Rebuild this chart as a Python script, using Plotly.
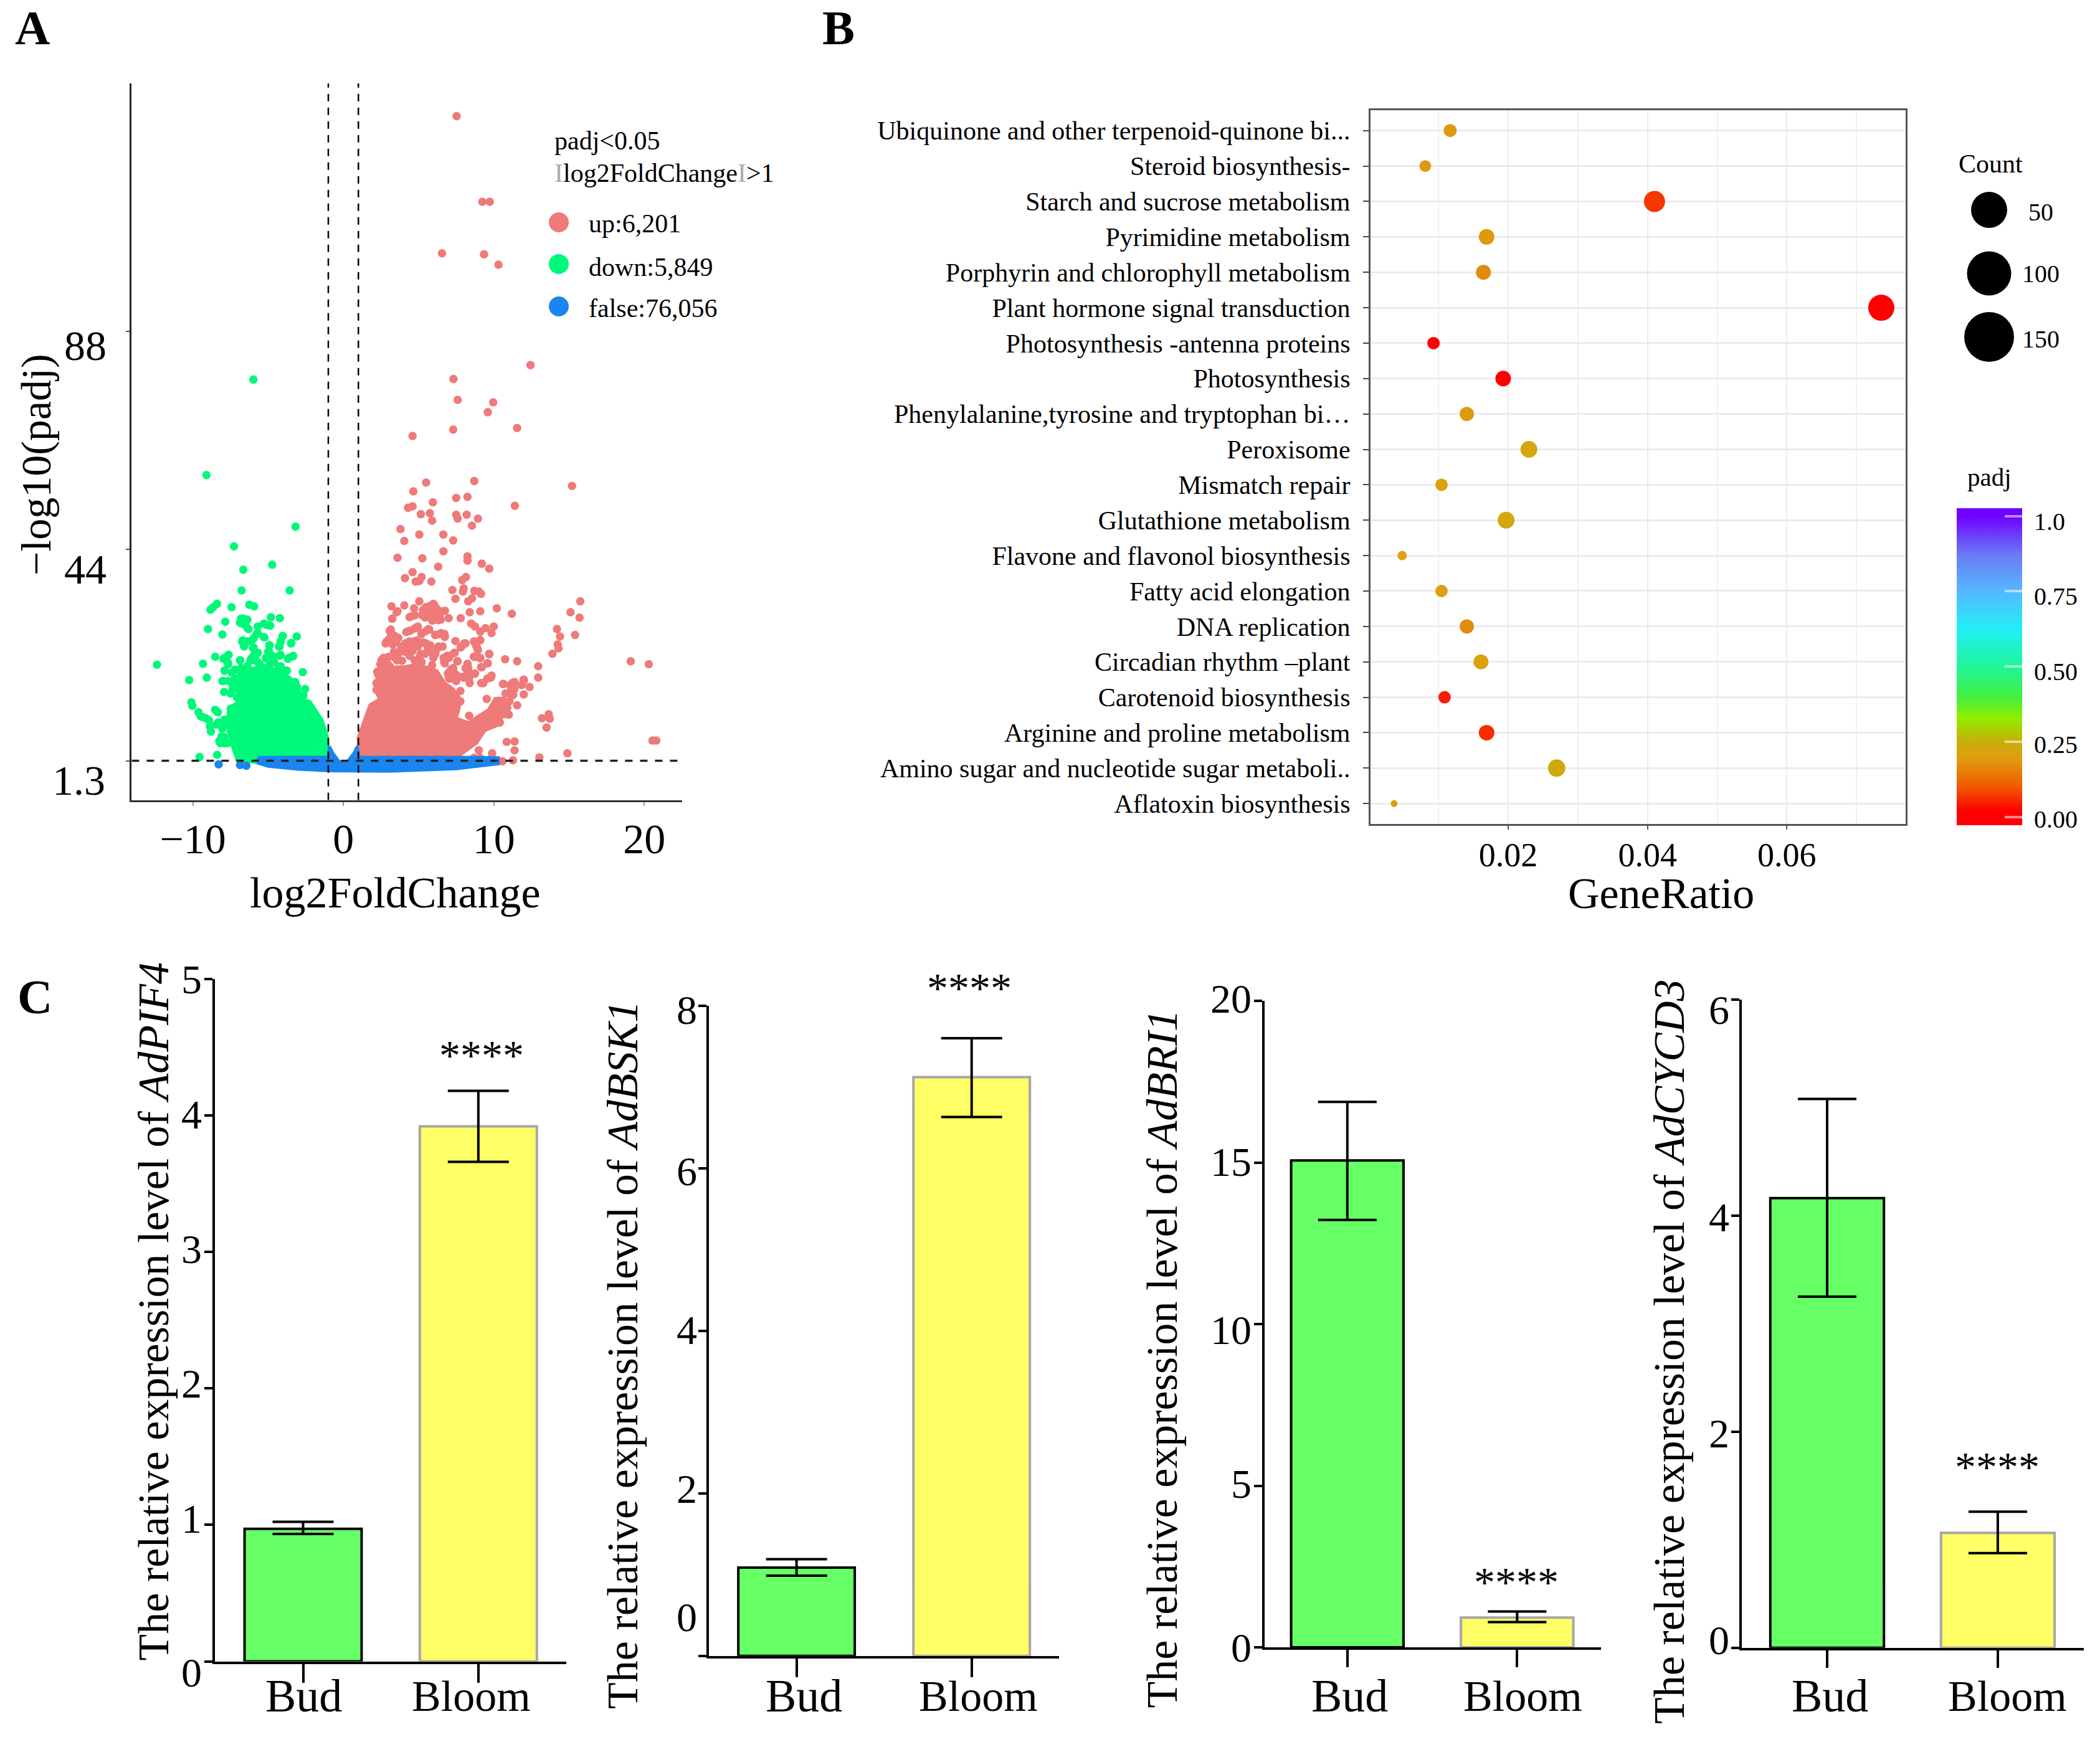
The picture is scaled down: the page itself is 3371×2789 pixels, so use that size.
import plotly.graph_objects as go

W, H = 3371, 2789
FONT = "Liberation Serif"

# ---------- Panel A: volcano plot ----------
up_outline = [(1.0,1.3),(1.0,6.1),(1.5,10.3),(1.77,12.6),(2.4,13.7),(2.12,15.8),(2.12,17),(2.4,19.1),(2.53,21.1),(2.95,21.7),
              (3.3,20.2),(4.1,20.3),(4.8,20.7),(5.5,20.2),(6.2,19.5),(6.75,17),(7.3,15.8),(7.7,14.1),(7.7,12),(7.5,9.9),
              (8.3,9),(9,10.3),(9.65,11.6),(10.1,13.9),(10.7,13.9),(10.85,12.8),(10.35,8.6),(9.4,7.4),(8.85,4.9),(7.7,2.3),(7.5,1.3)]
up_points = [(7.53,131.5),(9.24,114.2),(9.73,114.2),(6.56,103.8),(9.35,103.6),(10.31,101.5),(12.44,81.2),(7.32,78.4),
 (7.6,74.2),(9.96,73.7),(9.6,71.7),(7.3,68.2),(11.55,68.5),(4.6,66.9),(5.5,57.5),(8.7,57.8),(15.2,56.8),(4.65,55.7),(7.5,54.4),
 (8.25,54.6),(5.95,53.5),(11.4,52.8),(4.6,52.7),(4.3,52.4),(5.15,51.1),(5.75,51.3),(7.5,51.0),(7.6,50.2),(8.2,51),(5.9,49.8),
 (8.95,50.2),(8.55,48.8),(3.8,48.1),(5.05,47),(6.65,47),(7.3,45.8),(4.05,45.7),(6.65,43.6),(8.25,42.6),(8.25,41.7),(3.6,42.3),
 (5.25,42.2),(9.2,41.1),(9.7,40.1),(6.3,40.5),(4.6,39.4),(4.1,38.2),(5.2,38.4),(5.05,37.6),(4.8,37.5),(5.85,37.5),(8.15,38.4),
 (7.9,37.8),(7.25,35.8),(8,36.1),(7.95,35.5),(8.7,35.6),(9,35.5),(9.15,35),(7.45,34),(8.55,34.1),(8.3,33.5),(5.05,33.5),(15.75,33.5),
 (4.05,32.7),(3.2,32.5),(6.05,32.8),(5.75,32.6),(4.7,32.1),(5.4,32),(10.2,32.1),(3.6,31.5),(6.75,31.6),(6.15,31.7),(8.4,31.3),(9.1,31.5),
 (15.1,31.3),(11.2,31),(15.7,30.2),(3.25,30),(4.4,30.3),(4.75,30.7),(5.45,30.3),(5.95,29.8),(6.3,29.7),(6.4,30.7),(7,30.1),(7.8,30.1),
 (8.5,29),(8.75,28.4),(9.1,27.4),(9.45,28.1),(10,28.4),(9.85,27.1),(3.15,27.8),(14.2,27.9),(14.4,26.4),(15.4,26.7),(4.85,28.2),(4.35,27.5),
 (5.65,27.9),(5.2,27.1),(6.1,26.7),(6.5,27.1),(6.75,26.5),(7.45,25.5),(9.1,25.7),(8.75,25.2),(8.05,25),(7.8,24.2),(8.9,24),(14.25,24.8),
 (14.3,24),(13.9,22.9),(9.7,22.8),(10.75,21.8),(11.55,21.4),(12.95,20.4),(12.95,18.1),(19.1,21.4),(20.3,20.8),(8.7,22.3),(9.1,22.1),
 (9.6,21),(9.2,20.2),(8.25,20.9),(8.3,20),(8.75,18.9),(8.4,18.3),(8,18.1),(9.8,18.1),(9.3,17),(10.65,16.8),(11.3,17),(12,17.5),
 (7.4,23.1),(6.9,22.5),(6.7,21.2),(7.6,21.4),(7.3,20),(7.05,19.1),(7.5,17.7),(7.05,17.9),
 (3.29,26.5),(3.64,26.1),(2.88,25.4),(3.29,24.8),(3.7,23.3),(4.05,24.4),(4.26,23.7),(4.67,25.4),(4.81,24.4),(4.4,22.5),(5.15,22.9),
 (5.57,24.6),(5.78,23.3),(6.05,22.7),(6.26,24),(6.6,24.4),(6.74,21.6),(7.02,22.1),(7.36,23.1),(7.57,21.4),(2.81,21.9),(3.08,20.4),
 (2.25,19.3),(3.57,21.6),(7.02,19.1),(7.3,19.8),(7.5,18.7),(7.09,17.9),(7.5,17.4),(7.98,18.3),(8.26,20.8),(8.33,19.3),(8.75,18.9),
 (8.4,17),(8.33,17.9),(8.68,22.3),(9.09,22),(9.16,20.2),(9.57,21),(9.69,22.9),(9.3,17),(9.78,18.1),(10.61,16.8),(11.23,17),(11.37,15.8),
 (11.23,14.5),(10.78,14.9),(11.99,17.7),(11.85,16.6),(12.38,16.2),(11.99,14.7),(11.55,12.5),(11,10.6),(9.53,13.8),(7.78,15.4),(7.78,13.3),
 (8.36,10.4),(13.2,9.9),(13.65,10.7),(13.72,9.8),(13.51,8),(10.86,5.1),(11.38,5.2),(11.38,3.4),(9,3.4),(9.89,2.8),(9.89,1.9),(8.68,1.9),
 (9.09,1.9),(13.03,2),(14.89,2.8),(10.58,1.2),(11.27,1.4),(20.8,5.4),(20.55,5.4),
 (3.54,31.3),(3.25,30),(4.74,30.7),(5.29,31.7),(5.43,30.25),(5.64,32.35),(5.98,33),(6.19,32.1),(5.85,30.9),(6.26,31.1),(6.47,31.5),(5.43,31.3),
 (5.91,29.6),(5.5,32.35),(5.22,30.7),(6.05,30.5),(6.47,29.8),(4.53,30.5),(4.19,27.3),(4.46,27.6),(4.74,28),(4.95,28.4),(5.2,26.9),(5.5,27.5),
 (5.71,27.8),(6.12,26.7),(6.4,26.9),(6.72,26.9),(6.74,26.3),(3.08,27.5),(3.22,26.9),(3.08,26.05),(3.43,26.5),(2.81,25),(3.08,25.2),(3.5,25.4),
 (3.64,26.05),(3.84,24.4),(4.12,25),(4.4,25.4),(4.88,25.6),(4.53,24.8),(4.95,24.4),(5.29,25.2),(5.5,25),(5.78,24.6),(5.64,23.7),(6.05,23.5),
 (5.98,22.1),(6.33,24.4),(6.12,22.9),(4.12,23.3),(4.6,23.5),(5.09,22.5),(5.43,22.9),(3.64,22.9),(3.43,22.1),(3.36,23.3),(3.01,22.3),(2.67,22.1),
 (2.74,21),(4.74,21.6),(6.74,21),(7.09,22.5),(6.67,22.1),(7.85,24.4),(8.12,25),(8.68,25.4),(8.82,24.6),(8.95,23.7),(9.09,25.6),(8.81,22.3),
 (7.16,19.8),(6.95,18.9),(7.3,18.7),(7,18.3),(8.26,18.7),(8.12,20),(9.57,17.9),(9.85,18.5),(9.16,17),(11.37,17.2),(11.09,16.6),(11.16,15.8),
 (11.3,14.7),(11.03,13.3),(10.89,12),(10.68,10.7),(10.4,9),(2.46,20.8),(2.53,21.6),(2.32,18.7),(2.2,17),(2.2,15.6),(3.9,21.5),(5.2,21.2),(5.9,20.6)]

down_outline = [(-1.0,1.9),(-1.06,6.1),(-1.41,9.5),(-1.96,12),(-2.24,13.3),(-2.93,13.7),(-2.93,16.5),(-3.62,18.2),(-4.17,19.6),(-5,20),
                (-5.55,20.2),(-6.38,19.8),(-6.94,18.5),(-7.14,16.6),(-6.94,13.2),(-7.63,12),(-7.7,8.2),(-7.35,4),(-7.07,1.5),(-5.69,0.9),(-5.69,1.9)]
down_points = [(-5.98,78.3),(-9.1,59),(-3.18,48.6),(-7.27,44.6),(-4.73,40.9),(-6.65,39.9),(-6.76,35.7),(-3.57,35.7),(-8.4,33),(-8.66,32.3),
 (-8.84,31.8),(-7.43,32.3),(-6.25,32.8),(-5.93,32.5),(-4.82,30.3),(-4.22,30.1),(-6.8,30),(-6.45,29.8),(-6.73,29),(-6.38,28.1),(-7.85,29.4),
 (-9,27.9),(-8.04,26.8),(-5.69,28.4),(-5,28.7),(-5.28,29),(-5.76,26.9),(-5.25,26.2),(-3.1,26.4),(-4.04,26.5),(-4.17,25.4),(-3.46,25.1),
 (-4.28,24.4),(-6.69,25.6),(-6.59,24.6),(-6.1,25.6),(-4.9,24.6),(-6,24),(-5.7,23.1),(-5,23.3),(-3.35,22.4),(-3.69,21.9),(-4.24,22.5),
 (-4.73,22.5),(-8.52,22.3),(-7.63,22.7),(-7.97,21.9),(-6.87,21.6),(-6.1,22),(-5.14,22),(-12.39,20.7),(-9.33,20.9),(-7.66,20.8),(-2.7,19.2),
 (-3.76,19.5),(-7.9,19.5),(-10.25,17.6),(-9.08,18.1),(-8.04,17.4),(-4.31,20),(-7.21,19.7),(-6.8,20),(-6.38,20.4),(-5.69,21.2),(-4.87,20.8),
 (-5.28,20),(-4.66,19.1),(-6.1,19.3),(-3.2,17.2),(-3.62,17.6),(-7.21,17.9),(-6.38,17.9),
 (-10.04,12.4),(-10.1,13.1),(-9.63,11.1),(-9.35,10.1),(-8.94,9.5),(-8.8,7.2),(-8.52,11.6),(-8.35,11.1),(-8.45,8.6),(-8.04,7.8),(-8.18,4.85),
 (-7.9,4.85),(-8.39,2.5),(-9.56,2.05),(-7.49,11.8),(-7.97,17.4),(-7.93,15.2),(-7.9,19.5),(-2.54,15.8),(-3.34,17),(-7.35,15.8),(-8.1,6.2),(-7.9,9.6),
 (-6.66,30),(-6.38,29.8),(-6.87,29.2),(-6.52,28.8),(-6.31,27.9),(-5.14,28.8),(-4.86,28.6),(-5.69,27.1),(-5.28,26.3),(-5.97,26),(-6.73,25.4),
 (-6.59,24.4),(-6.38,25.4),(-4.03,26.5),(-4.17,25.4),(-3.48,25),(-4.24,24.4),(-4.93,24.6),(-5.97,24.2),(-5.69,23.1),(-4.93,23.3),(-5.14,22.1),
 (-4.73,22.5),(-4.17,22.7),(-3.62,22.1),(-3.34,22.5),(-5.97,22.5),(-6.18,21.6),(-6.87,21.6),(-7.63,22.7),(-7.9,22.1),(-7.69,21.2),(-3.76,19.5),
 (-3.21,17),(-2.65,14.5),(-3.62,17.4),(-7.42,19.1),(-7.63,17.4),(-7.35,16.6),(-7.49,14.9),(-7.07,14.1),(-6.8,15.3),(-4.17,20.4),(-4.59,21.2),
 (-5.55,20.8),(-6.38,20.4),(-6.8,18.7),(-5.83,21.6),(-8.32,9.05),(-8.04,8.6),(-7.76,9.05),(-7.49,9.5),(-7.9,6.1),(-8.25,5.3),(-7.69,4.85),
 (-7.28,11.6),(-7.49,7.4),(-8.87,8.2),(-9.15,9.9),(-9.49,10.3)]

false_outline = [(-5.65,2.0),(-1.0,2.0),(-0.93,4.2),(-0.7,2.8),(-0.3,1.2),(0,0.8),(0.3,1.2),(0.7,2.8),(0.93,4.2),(1.0,2.0),(7.5,2.0),(10.3,1.9),
                 (10.3,0.7),(7.5,-0.3),(3,-0.8),(-1,-0.7),(-3,-0.4),(-5,0.2),(-5.65,0.8)]
false_points = [(-8.29,0.57),(-6.87,0.45),(-6.45,0.3)]

# ---------- Panel B: KEGG dot plot ----------
pathways = ["Ubiquinone and other terpenoid-quinone bi...","Steroid biosynthesis-","Starch and sucrose metabolism","Pyrimidine metabolism",
            "Porphyrin and chlorophyll metabolism","Plant hormone signal transduction","Photosynthesis -antenna proteins","Photosynthesis",
            "Phenylalanine,tyrosine and tryptophan bi…","Peroxisome","Mismatch repair","Glutathione metabolism","Flavone and flavonol biosynthesis",
            "Fatty acid elongation","DNA replication","Circadian rhythm –plant","Carotenoid biosynthesis","Arginine and proline metabolism",
            "Amino sugar and nucleotide sugar metaboli..","Aflatoxin biosynthesis"]
gene_ratio = [0.01167,0.0081,0.0410,0.0169,0.01645,0.07355,0.00928,0.01928,0.01406,0.02297,0.01043,0.0197,0.00478,0.01043,0.01406,0.01609,0.01087,0.0169,0.02696,0.00362]
gene_count = [36,28,107,54,49,169,32,54,44,64,32,64,16,32,44,49,32,54,69,7]
padj_value = [0.19,0.19,0.07,0.19,0.17,0.0,0.012,0.0,0.19,0.22,0.21,0.22,0.2,0.2,0.17,0.2,0.045,0.06,0.23,0.19]
padj_ticks = [0,0.25,0.5,0.75,1.0]
padj_tick_text = ["0.00","0.25","0.50","0.75","1.0"]
count_legend = ["50","100","150"]

# ---------- Panel C: relative expression ----------
stages = ["Bud","Bloom"]
pif4_mean, pif4_upper, pif4_lower = [0.971,3.92], [1.022,4.18], [0.933,3.66]
bsk1_mean, bsk1_upper, bsk1_lower = [1.086,7.12], [1.19,7.6], [0.986,6.63]
bri1_mean, bri1_upper, bri1_lower = [15.07,0.92], [16.88,1.11], [13.23,0.78]
cycd3_mean, cycd3_upper, cycd3_lower = [4.162,1.064], [5.08,1.26], [3.25,0.877]

# ---------- helpers ----------
def dx(l, r): return [l / W, r / W]
def dy(t, b): return [1 - b / H, 1 - t / H]
def px_x(v): return v / W
def px_y(v): return 1 - v / H

ann, shapes = [], []
def note(x, y, text, size, xa="center", ya="middle", angle=0, color="#000"):
    ann.append(dict(x=px_x(x), y=px_y(y), xref="paper", yref="paper", text=text, showarrow=False, xanchor=xa, yanchor=ya,
                    textangle=angle, borderpad=0, font=dict(family=FONT, size=size, color=color)))
def dot(cx, cy, d, color):
    shapes.append(dict(type="circle", xref="paper", yref="paper", x0=px_x(cx - d/2), x1=px_x(cx + d/2),
                       y0=px_y(cy + d/2), y1=px_y(cy - d/2), fillcolor=color, line=dict(width=0), layer="above"))

fig = go.Figure()
RED, GREEN, BLUE = "#EE7A79", "#00F87A", "#1A85EE"

def blob(outline, points, color, name):
    ox, oy = zip(*outline)
    fig.add_trace(go.Scatter(x=list(ox) + [ox[0]], y=list(oy) + [oy[0]], mode="lines", fill="toself", fillcolor=color,
                             line=dict(color=color, width=5), name=name, showlegend=False, xaxis="x", yaxis="y", hoverinfo="skip"))
    px_, py_ = zip(*points)
    fig.add_trace(go.Scatter(x=list(px_), y=list(py_), mode="markers", marker=dict(color=color, size=13.5, opacity=1, line=dict(width=0)),
                             name=name, showlegend=False, xaxis="x", yaxis="y"))

blob(up_outline, up_points, RED, "up")
blob(down_outline, down_points, GREEN, "down")
blob(false_outline, false_points, BLUE, "false")

# threshold lines
for xv in (-1, 1):
    shapes.append(dict(type="line", xref="x", yref="y", x0=xv, x1=xv, y0=-6.66, y1=138.1, layer="above",
                       line=dict(color="#000", width=2.5, dash="12px,10px")))
shapes.append(dict(type="line", xref="x", yref="y", x0=-14.07, x1=22.5, y0=1.3, y1=1.3, layer="above",
                   line=dict(color="#222", width=3.5, dash="12px,12px")))

# Panel B
CMIN, CMAX = -0.0275, 1.026
stops = [(CMIN,"#FF0000"),(0.02,"#FF0000"),(0.1,"#F05A00"),(0.2,"#DDA00F"),(0.25,"#C9AE0A"),(0.33,"#90EE00"),(0.4,"#40F040"),(0.5,"#20F59A"),
         (0.62,"#20F0F5"),(0.75,"#55B8FF"),(0.87,"#6A7CF5"),(1.0,"#7000FF"),(CMAX,"#7000FF")]
cscale = [[(v - CMIN) / (CMAX - CMIN), c] for v, c in stops]
BAR_L, BAR_R, BAR_T, BAR_B = 3140.8, 3245.4, 815.8, 1325
fig.add_trace(go.Scatter(
    x=gene_ratio, y=pathways, mode="markers", xaxis="x2", yaxis="y2", showlegend=False, name="KEGG",
    marker=dict(color=padj_value, cmin=CMIN, cmax=CMAX, colorscale=cscale, opacity=1,
                size=[3 + 3 * c ** 0.5 for c in gene_count], line=dict(width=0),
                colorbar=dict(x=px_x(BAR_L), xanchor="left", y=px_y(BAR_B), yanchor="bottom", thickness=BAR_R - BAR_L, thicknessmode="pixels",
                              len=(BAR_B - BAR_T) / H, lenmode="fraction", xpad=0, ypad=0, outlinewidth=0, bgcolor="rgba(0,0,0,0)",
                              tickmode="array", tickvals=padj_ticks, ticktext=padj_tick_text, ticks="inside", ticklen=28, tickwidth=4,
                              tickcolor="rgba(255,255,255,0.55)", showticklabels=False))))
for v, label, ly in zip(padj_ticks, padj_tick_text, [1315, 1195, 1078, 958, 838]):
    yy = 1311.7 - v * 483.4
    shapes.append(dict(type="line", xref="paper", yref="paper", x0=px_x(BAR_L), x1=px_x(BAR_L + 28), y0=px_y(yy), y1=px_y(yy),
                       line=dict(color="rgba(255,255,255,0.55)", width=4), layer="above"))
    note(3264, ly, label, 40, xa="left")

# Panel C
charts = [
    dict(mean=pif4_mean, up=pif4_upper, lo=pif4_lower, x="x3", y="y3", dom=(345, 908.8, 1571.8, 2667.6), xr=(-0.503, 1.501), ymax=5,
         tv=[0,1,2,3,4,5], ty=[2685,2438.6,2221,2005.6,1789,1572], tr=325, w=0.668, cap=49, tlen=30, star=(773,1690), title="AdPIF4", tx=245.5, tcy=2106, lab=(487,756)),
    dict(mean=bsk1_mean, up=bsk1_upper, lo=bsk1_lower, x="x4", y="y4", dom=(1137.8, 1700, 1614.7, 2658.7), xr=(-0.501, 1.499), ymax=8,
         tv=[0,2,4,6,8], ty=[2596,2390,2135,1880,1621], tr=1120, w=0.665, cap=49, tlen=30, star=(1556,1582), title="AdBSK1", tx=999.5, tcy=2175.5, lab=(1290,1570)),
    dict(mean=bri1_mean, up=bri1_upper, lo=bri1_lower, x="x5", y="y5", dom=(2029.5, 2569.5, 1607.4, 2645), xr=(-0.489, 1.492), ymax=20,
         tv=[0,5,10,15,20], ty=[2645,2382,2135,1865.6,1603], tr=2010, w=0.662, cap=47, tlen=28, star=(2434,2535.7), title="AdBRI1", tx=1865, tcy=2181.5, lab=(2166.7,2444)),
    dict(mean=cycd3_mean, up=cycd3_upper, lo=cycd3_lower, x="x6", y="y6", dom=(2796, 3345, 1605, 2645.8), xr=(-0.5, 1.504), ymax=6,
         tv=[0,2,4,6], ty=[2633,2301,1954.6,1621], tr=2777, w=0.666, cap=47, tlen=28, star=(3205.8,2351), title="AdCYCD3", tx=2679, tcy=2170, lab=(2937,3222)),
]
axes = {}
AX_COLOR = "#000"
for c in charts:
    fig.add_trace(go.Bar(
        x=stages, y=c["mean"], width=c["w"], xaxis=c["x"], yaxis=c["y"], showlegend=False, name=c["title"],
        marker=dict(color=["#66FF66", "#FFFF66"], line=dict(color=["#000000", "#A6A6A6"], width=4)),
        error_y=dict(type="data", symmetric=False, array=[u - m for u, m in zip(c["up"], c["mean"])],
                     arrayminus=[m - l for m, l in zip(c["mean"], c["lo"])], color="#000", thickness=4, width=c["cap"])))
    l, r, t, b = c["dom"]
    xk, yk = c["x"].replace("x", "xaxis"), c["y"].replace("y", "yaxis")
    axes[xk] = dict(domain=dx(l, r), anchor=c["y"], range=list(c["xr"]), type="category", categoryorder="array", categoryarray=stages,
                    showgrid=False, zeroline=False, showline=True, linecolor=AX_COLOR, linewidth=4, ticks="outside", ticklen=c["tlen"], tickwidth=4,
                    tickcolor=AX_COLOR, showticklabels=False)
    axes[yk] = dict(domain=dy(t, b), anchor=c["x"], range=[0, c["ymax"]], tickmode="array", tickvals=c["tv"], showticklabels=False,
                    showgrid=False, zeroline=False, showline=True, linecolor=AX_COLOR, linewidth=4, ticks="outside", ticklen=13, tickwidth=4, tickcolor=AX_COLOR)
    for v, yy in zip(c["tv"], c["ty"]):
        note(c["tr"], yy, str(v), 66, xa="right")
    for stage, lx, fs in zip(stages, c["lab"], (74, 70)):
        note(lx, 2723, stage, fs)
    note(c["star"][0], c["star"][1] + 4, "****", 68)
    note(c["tx"], c["tcy"], f"The relative expression level of <i>{c['title']}</i>", 70, angle=-90)

# Panel A axes
axes["xaxis"] = dict(domain=dx(211.4, 1094.5), anchor="y", range=[-14.07, 22.5], tickmode="array", tickvals=[-10, 0, 10, 20],
                     showgrid=False, zeroline=False, showline=True, linecolor="#333", linewidth=3, ticks="outside", ticklen=6, tickwidth=2, tickcolor="#999",
                     tickfont=dict(family=FONT, size=68, color="#000"), ticklabelstandoff=-5)
axes["yaxis"] = dict(domain=dy(134, 1284.8), anchor="x", range=[-6.66, 138.1], tickmode="array", tickvals=[1.3, 44, 88], showticklabels=False,
                     showgrid=False, zeroline=False, showline=True, linecolor="#222", linewidth=3, ticks="outside", ticklen=6, tickwidth=2, tickcolor="#555")
note(172, 555, "88", 68, xa="right"); note(172, 914, "44", 68, xa="right"); note(170, 1253, "1.3", 68, xa="right")
note(634, 1433, "log2FoldChange", 70)
note(58, 746, "−log10(padj)", 68, angle=-90)
note(889, 226, "padj&lt;0.05", 42, xa="left")
GI = "<span style='color:#aaaaaa'>I</span>"
note(889, 278, f"{GI}log2FoldChange{GI}&gt;1", 42, xa="left")
for cy, ty, col, label in [(357, 359, RED, "up:6,201"), (424, 429, GREEN, "down:5,849"), (492, 495, BLUE, "false:76,056")]:
    dot(897, cy, 32, col)
    note(944, ty, label, 42, xa="left")

# Panel B axes
axes["xaxis2"] = dict(domain=dx(2199.7, 3058.9), anchor="y2", range=[0.00021, 0.07704], tickmode="array", tickvals=[0.02, 0.04, 0.06], ticktext=["0.02", "0.04", "0.06"],
                      showgrid=True, gridcolor="#EBEBEB", gridwidth=2, zeroline=False, showline=True, mirror=True, linecolor="#555", linewidth=2.5,
                      ticks="outside", ticklen=6, tickwidth=2, tickcolor="#555", tickfont=dict(family=FONT, size=54, color="#000"), ticklabelstandoff=-6,
                      minor=dict(tickmode="array", tickvals=[0.01, 0.03, 0.05, 0.07], showgrid=True, gridcolor="#F0F0F0", gridwidth=1.5, ticks=""))
axes["yaxis2"] = dict(domain=dy(177.4, 1323.3), anchor="x2", type="category", categoryorder="array", categoryarray=pathways[::-1], range=[-0.582, 19.568],
                      showgrid=True, gridcolor="#EBEBEB", gridwidth=3, zeroline=False, showline=True, mirror=True, linecolor="#555", linewidth=2.5,
                      ticks="outside", ticklen=9, tickwidth=2, tickcolor="#444", tickfont=dict(family=FONT, size=42, color="#000"), ticklabelstandoff=12)
note(2666, 1434, "GeneRatio", 70)
note(3143, 263, "Count", 42, xa="left")
for cy, d, ty, tx, label in zip([337, 439, 541], [58, 71, 80], [340, 439, 544], [3255, 3245, 3245], count_legend):
    dot(3193, cy, d, "#000")
    note(tx, ty, label, 40, xa="left")
note(3193, 766, "padj", 41)

# Panel letters
note(52, 44, "<b>A</b>", 78); note(1346, 45, "<b>B</b>", 78); note(56, 1600, "<b>C</b>", 78)

fig.update_layout(width=W, height=H, margin=dict(l=0, r=0, t=0, b=0, autoexpand=False), paper_bgcolor="#fff", plot_bgcolor="#fff",
                  font=dict(family=FONT, color="#000"), bargap=0.33, annotations=ann, shapes=shapes, showlegend=False, **axes)
fig.write_html("out.html", post_script="document.body.style.margin='0';", config=dict(displayModeBar=False))
